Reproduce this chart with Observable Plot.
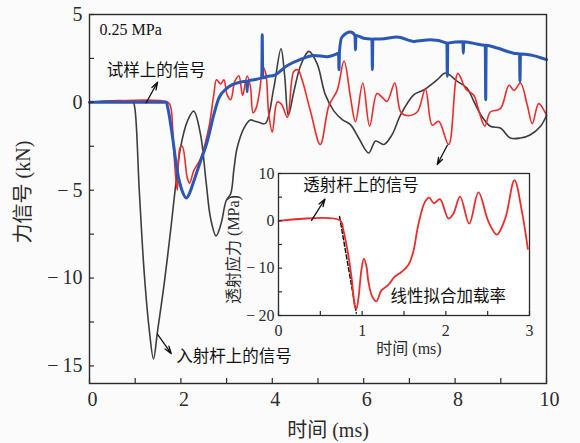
<!DOCTYPE html>
<html><head><meta charset="utf-8">
<script src="https://cdn.jsdelivr.net/npm/d3@7"></script>
<script src="https://cdn.jsdelivr.net/npm/@observablehq/plot@0.6"></script>
<style>
body{margin:0;background:#fbfbfb;}
#wrap{position:relative;width:580px;height:443px;overflow:hidden;background:#fbfbfb;}
#wrap svg{position:absolute;}
#wrap svg text{font-family:'Liberation Serif','Noto Sans CJK SC',serif;}
</style></head><body><div id="wrap"></div>
<script>
// ---------- data ----------
// incident bar signal (black), kN vs ms
const incT = [0,0.95,0.99,1.09,1.20,1.31,1.40,1.49,1.64,1.79,1.86,1.99,2.14,2.28,2.43,2.55,2.65,2.77,2.88,2.99,3.09,3.16,3.23,3.38,3.52,3.62,3.72,3.85,4.03,4.19,4.27,4.35,4.47,4.62,4.80,4.98,5.16,5.35,5.53,5.71,5.89,6.11,6.26,6.44,6.62,6.81,7.10,7.32,7.61,7.79,8.05,8.26,8.41,8.56,8.77,8.99,9.21,9.43,9.65,9.87,10.0];
const incV = [0,0,-0.3,-5.06,-9.8,-13.0,-14.6,-13.0,-10.2,-6.95,-5.3,-2.6,-1.08,-0.5,-1.84,-4.5,-6.6,-7.6,-6.9,-5.6,-5.2,-3.8,-2.6,-1.46,-1.0,-1.08,-1.15,-1.2,0.78,3.05,1.53,-0.74,0.59,2.1,2.9,2.2,0.44,-0.5,-0.98,-1.27,-2.03,-2.88,-2.2,-2.4,-1.84,-0.7,0.44,0.72,1.29,1.67,1.19,0.81,0.06,-0.7,-1.36,-1.46,-2.03,-2.03,-1.84,-1.36,-0.75];
// transmitted bar signal (red)
const traT = [0,1.72,1.78,1.84,1.92,1.98,2.03,2.14,2.19,2.28,2.43,2.61,2.72,2.78,2.87,2.94,3.01,3.09,3.18,3.27,3.35,3.45,3.52,3.58,3.65,3.72,3.80,3.86,3.92,4.0,4.11,4.2,4.33,4.47,4.56,4.65,4.84,5.05,5.24,5.42,5.57,5.71,5.82,5.98,6.13,6.29,6.40,6.51,6.68,6.81,6.95,7.17,7.35,7.50,7.64,7.86,8.06,8.23,8.41,8.50,8.65,8.77,8.99,9.18,9.29,9.43,9.58,9.69,9.83,10.0];
const traV = [0,0,-0.3,-2.6,-5.0,-2.6,-2.5,-4.3,-4.6,-3.9,-3.2,-1.46,0.44,1.29,1.05,1.29,0.44,0.15,1.2,1.5,0.4,1.5,0.9,-0.6,-0.3,0.6,2.0,1.6,-0.6,-1.69,0.02,-0.1,-0.85,1.76,1.85,1.3,-0.55,-2.4,-0.17,0.68,2.35,0.3,-1.1,1.1,-1.35,0.5,0.3,0.05,1.1,-0.55,-0.75,-0.55,0.75,-1.3,-1.08,-2.4,1.65,0.78,0.4,-0.3,-1.35,-0.55,-0.36,0.97,0.68,1.1,-0.17,-1.21,-0.07,-0.74];
// specimen signal (blue), with its narrow spikes
const speT = [0,1.68,1.72,1.81,1.92,2.03,2.12,2.20,2.28,2.43,2.58,2.72,2.83,3.01,3.30,3.44,3.45,3.46,3.60,3.77,3.78,3.79,3.89,4.03,4.33,4.62,4.91,5.2,5.40,5.45,5.46,5.47,5.52,5.71,5.81,5.82,5.83,6.0,6.18,6.19,6.20,6.37,6.73,7.1,7.46,7.82,7.83,7.84,8.17,8.18,8.19,8.56,8.66,8.67,8.68,8.92,9.28,9.41,9.42,9.43,9.65,10.0];
const speV = [0,0,-0.4,-1.84,-3.9,-5.06,-5.44,-5.1,-4.5,-3.35,-2.2,-0.7,0.24,0.81,1.15,1.2,0.6,1.2,1.29,1.4,3.85,1.4,1.48,1.53,2.1,2.45,2.67,2.6,2.75,2.8,1.85,2.9,3.7,4.0,3.8,3.0,3.8,3.65,3.6,1.86,3.6,3.6,3.72,3.47,3.56,3.37,1.48,3.37,3.45,2.8,3.45,3.28,3.25,0.15,3.25,3.09,2.8,2.75,1.19,2.75,2.7,2.43];
// inset: transmitted stress (MPa) vs ms
const insT = [0,0.735,0.775,0.835,0.875,0.915,0.93,0.955,0.99,1.02,1.05,1.075,1.12,1.17,1.23,1.31,1.39,1.47,1.55,1.61,1.67,1.75,1.80,1.86,1.93,2.03,2.09,2.17,2.28,2.39,2.51,2.61,2.71,2.82,2.91,2.98];
const insS = [0,0.1,-2.0,-7.3,-12.2,-18.2,-18.6,-16.4,-10.5,-8.0,-9.5,-12.9,-16.0,-17.0,-14.7,-13.6,-11.8,-10.8,-9.4,-6.6,-0.9,4.0,4.9,3.7,4.6,0.5,1.5,5.1,-0.6,6.0,-0.2,-2.9,0.5,8.6,1.9,-5.9];
// linear fit of the loading rate (dashed)
const fitT = [0.73, 0.93];
const fitS = [0.9, -19.5];

// ticks
const mainXLabels = [0,2,4,6,8,10];
const mainXTicks = [0,1,2,3,4,5,6,7,8,9,10];
const mainYLabels = [5,0,-5,-10,-15];
const mainYTicks = [5,2.5,0,-2.5,-5,-7.5,-10,-12.5,-15];
const insXLabels = [0,1,2,3];
const insXTicks = [0,0.5,1,1.5,2,2.5,3];
const insYLabels = [10,0,-10,-20];
const insYTicks = [10,5,0,-5,-10,-15,-20];

// texts
const mainXTitle = "时间 (ms)";
const mainYTitle = "力信号 (kN)";
const insXTitle = "时间 (ms)";
const insYTitle = "透射应力 (MPa)";
const pressureNote = [{t: 0.22, v: 4.15, text: "0.25 MPa"}];
const mainNotes = [
  {t: 1.46, v: 1.82, text: "试样上的信号"},
  {t: 3.16, v: -14.46, text: "入射杆上的信号"}
];
const mainArrows = [
  {t1: 1.24, v1: -0.02, t2: 1.49, v2: 1.15},
  {t1: 1.49, v1: -13.2, t2: 1.79, v2: -14.3},
  {t1: 7.83, v1: -2.44, t2: 7.61, v2: -3.54}
];
const insNotes = [
  {t: 0.985, s: 7.5, text: "透射杆上的信号"},
  {t: 2.03, s: -16.1, text: "线性拟合加载率"}
];
const insArrows = [{t1: 0.395, s1: 0.1, t2: 0.556, s2: 4.6}];

// ---------- build ----------
const zip = (a, b, k1, k2) => a.map((x, i) => ({[k1]: x, [k2]: b[i]}));
const incident = zip(incT, incV, "t", "v");
const transmitted = zip(traT, traV, "t", "v");
const specimen = zip(speT, speV, "t", "v");
const inset = zip(insT, insS, "t", "s");
const fit = zip(fitT, fitS, "t", "s");

const serif = "'Liberation Serif','Noto Sans CJK SC',serif";
const fmt = d => d < 0 ? "\u2212\u2009" + Math.abs(d) : String(d);
const ink = "#2b2b2b";

// main chart geometry
const W = 580, H = 443, mL = 89, mR = 34, mT = 14, mB = 60;
const xD = [0, 10], yD = [-16, 5];
const tkY = 5 * (yD[1] - yD[0]) / (H - mT - mB);
const tkX = 5 * (xD[1] - xD[0]) / (W - mL - mR);

const main = Plot.plot({
  width: W, height: H, marginLeft: mL, marginRight: mR, marginTop: mT, marginBottom: mB,
  style: {background: "transparent", fontFamily: serif, color: ink, overflow: "visible"},
  x: {domain: xD}, y: {domain: yD},
  marks: [
    Plot.line(incident, {x: "t", y: "v", stroke: "#3d3d3d", strokeWidth: 1.6, curve: "catmull-rom"}),
    Plot.line(transmitted, {x: "t", y: "v", stroke: "#ee2b2b", strokeWidth: 1.6, curve: "catmull-rom"}),
    Plot.line(specimen, {x: "t", y: "v", stroke: "#2a58b8", strokeWidth: 3, curve: "monotone-x"}),
    Plot.ruleX(mainXTicks, {x: d => d, y1: yD[0], y2: yD[0] + tkY, stroke: ink, strokeWidth: 1.2}),
    Plot.ruleY(mainYTicks, {y: d => d, x1: xD[0], x2: xD[0] + tkX, stroke: ink, strokeWidth: 1.2}),
    Plot.axisX(mainXLabels, {tickSize: 0, tickPadding: 8, fontSize: 20, label: null, tickFormat: fmt, dx: 3, fill: ink}),
    Plot.axisY(mainYLabels, {tickSize: 0, tickPadding: 7, fontSize: 20, label: null, tickFormat: fmt, fill: ink}),
    Plot.text([mainXTitle], {frameAnchor: "bottom", textAnchor: "middle", lineAnchor: "middle", dy: 47, dx: 10, fontSize: 20, fill: ink}),
    Plot.text([mainYTitle], {frameAnchor: "left", textAnchor: "middle", lineAnchor: "middle", rotate: -90, dx: -66, dy: -7, fontSize: 20, fill: ink}),
    Plot.text(pressureNote, {x: "t", y: "v", text: "text", textAnchor: "start", fontSize: 16, fill: "#111"}),
    Plot.text(mainNotes, {x: "t", y: "v", text: "text", fontSize: 16.5, fill: "#111"}),
    Plot.arrow(mainArrows, {x1: "t1", y1: "v1", x2: "t2", y2: "v2", stroke: "#111", strokeWidth: 1.3, headLength: 9, headAngle: 35}),
    Plot.frame({stroke: ink, strokeWidth: 1.4})
  ]
});
main.style.left = "0px"; main.style.top = "0px";

// inset geometry
const iW = 317, iH = 188, iL = 58, iR = 8, iT = 6, iB = 40;
const ixD = [0, 3], iyD = [-20, 10];
const itkY = 4 * (iyD[1] - iyD[0]) / (iH - iT - iB);
const itkX = 4 * (ixD[1] - ixD[0]) / (iW - iL - iR);

const ins = Plot.plot({
  width: iW, height: iH, marginLeft: iL, marginRight: iR, marginTop: iT, marginBottom: iB,
  style: {background: "transparent", fontFamily: serif, color: ink, overflow: "visible"},
  x: {domain: ixD}, y: {domain: iyD},
  marks: [
    Plot.frame({fill: "#ffffff", stroke: "none"}),
    Plot.line(fit, {x: "t", y: "s", stroke: "#111", strokeWidth: 1.5, strokeDasharray: "4,2.5"}),
    Plot.line(inset, {x: "t", y: "s", stroke: "#ee2b2b", strokeWidth: 1.8, curve: "catmull-rom"}),
    Plot.ruleX(insXTicks, {x: d => d, y1: iyD[0], y2: iyD[0] + itkY, stroke: ink, strokeWidth: 1.2}),
    Plot.ruleY(insYTicks, {y: d => d, x1: ixD[0], x2: ixD[0] + itkX, stroke: ink, strokeWidth: 1.2}),
    Plot.axisX(insXLabels, {tickSize: 0, tickPadding: 9, fontSize: 16, label: null, tickFormat: fmt, fill: ink}),
    Plot.axisY(insYLabels, {tickSize: 0, tickPadding: 4, fontSize: 16, label: null, tickFormat: fmt, fill: ink}),
    Plot.text([insXTitle], {frameAnchor: "bottom", textAnchor: "middle", lineAnchor: "middle", dy: 33, dx: 5, fontSize: 16, fill: ink}),
    Plot.text([insYTitle], {frameAnchor: "left", textAnchor: "middle", lineAnchor: "middle", rotate: -90, dx: -45, dy: 5, fontSize: 16, fill: ink}),
    Plot.text(insNotes, {x: "t", y: "s", text: "text", fontSize: 16.5, fill: "#111"}),
    Plot.arrow(insArrows, {x1: "t1", y1: "s1", x2: "t2", y2: "s2", stroke: "#111", strokeWidth: 1.3, headLength: 9, headAngle: 35}),
    Plot.frame({stroke: ink, strokeWidth: 1.3})
  ]
});
ins.style.left = (278 - iL) + "px"; ins.style.top = (173 - iT) + "px";

const wrap = document.getElementById("wrap");
wrap.appendChild(main);
wrap.appendChild(ins);
</script></body></html>
